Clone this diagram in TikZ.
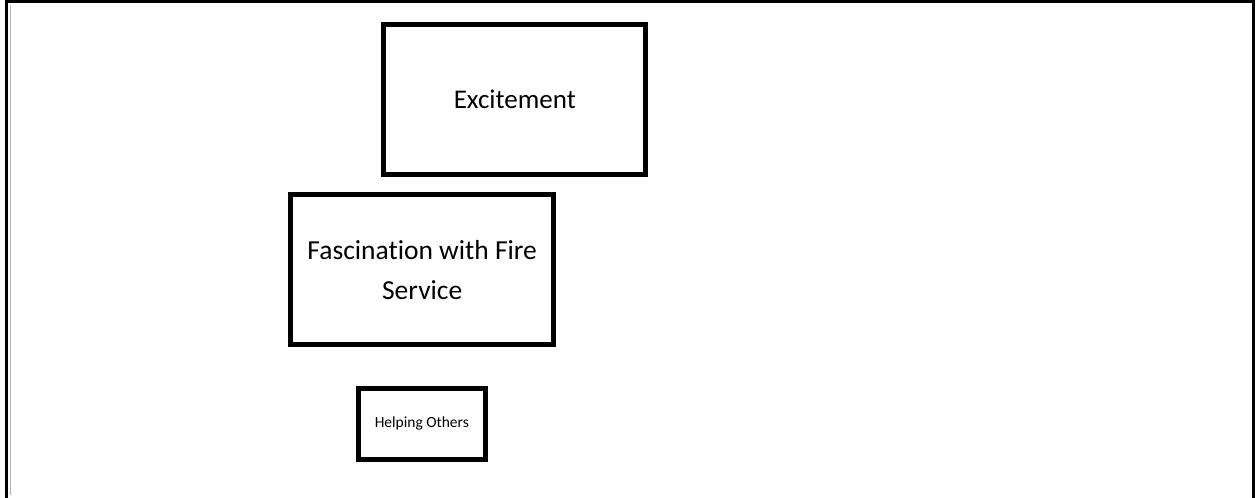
\documentclass[tikz,border=0pt]{standalone}
\usepackage{fontspec}
\setmainfont{Carlito}[Ligatures=NoCommon]
\begin{document}
\begin{tikzpicture}[x=1pt,y=-1pt,
  boxstyle/.style={draw=black,line width=5pt,fill=white,inner sep=0pt,align=center},
  framestyle/.style={draw=black,line width=3pt},
  inner/.style={draw=black!30,line width=1pt}]
\useasboundingbox (0,0) rectangle (1259,498);
\coordinate (bl) at (6,498);
\coordinate (br) at (1253.5,498);
\draw[framestyle] (bl) -- (6,1.5) -- (1253.5,1.5) -- (br);
\coordinate (g1) at (10.3,5);
\coordinate (g2) at (10.3,495);
\draw[inner] (g1) -- (g2);
\node[boxstyle,minimum width=261.7pt,minimum height=150pt,font=\fontsize{27}{32}\selectfont] (exc) at (514.8,99.2) {Excitement};
\node[boxstyle,minimum width=262.5pt,minimum height=150pt,font=\fontsize{27.5}{40}\selectfont] (fas) at (422.2,269.8) {Fascination with Fire\\Service};
\node[boxstyle,minimum width=127.5pt,minimum height=71.5pt,font=\fontsize{15.5}{18}\selectfont] (help) at (421.8,423.8) {Helping Others};
\end{tikzpicture}
\end{document}
